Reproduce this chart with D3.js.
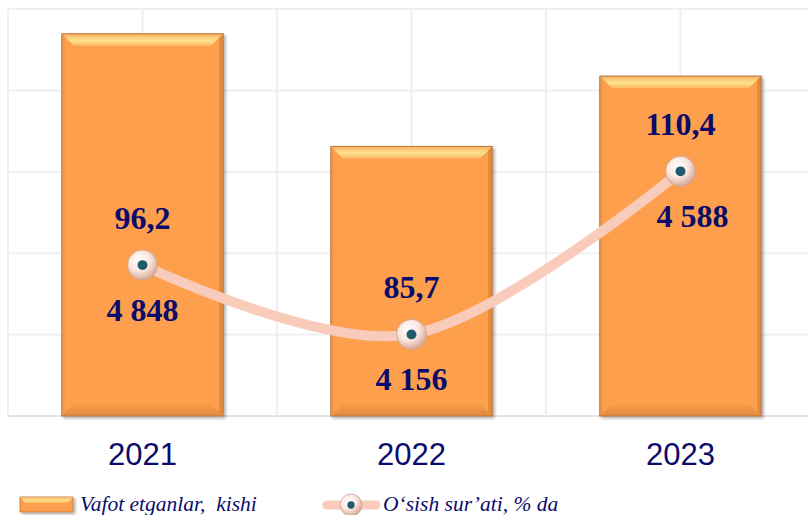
<!DOCTYPE html>
<html>
<head>
<meta charset="utf-8">
<script src="https://cdn.jsdelivr.net/npm/d3@7"></script>
<style>
  html, body { margin: 0; padding: 0; background: #fff; }
  svg { display: block; }
</style>
</head>
<body>
<svg id="chart"></svg>
<script>
var years = ["2021", "2022", "2023"];
var deaths = [4848, 4156, 4588];
var growth = [96.2, 85.7, 110.4];
var deathLabels = ["4 848", "4 156", "4 588"];
var growthLabels = ["96,2", "85,7", "110,4"];
var legendLabels = ["Vafot etganlar,  kishi", "O\u2018sish sur\u2019ati, % da"];

var width = 808, height = 515;
var svg = d3.select("#chart")
    .attr("width", width)
    .attr("height", height);

var plotTop = 9, plotBottom = 416, plotLeft = 8, plotRight = 815;

var x = d3.scaleBand()
    .domain(years)
    .range([plotLeft, plotRight])
    .paddingInner(0)
    .paddingOuter(0);

var y = d3.scaleLinear()
    .domain([2500, 5000])
    .range([plotBottom, plotTop]);

// secondary scale for the growth line (no axis drawn)
var y2 = d3.scaleLinear()
    .domain([80, 115])
    .range([372, 141]);

var defs = svg.append("defs");

var shadow = defs.append("filter").attr("id", "shadow")
    .attr("x", "-10%").attr("y", "-10%").attr("width", "130%").attr("height", "130%");
shadow.append("feDropShadow")
    .attr("dx", 2).attr("dy", 2).attr("stdDeviation", 1.5)
    .attr("flood-color", "#000").attr("flood-opacity", 0.3);

var topGrad = defs.append("linearGradient").attr("id", "topBevel")
    .attr("x1", 0).attr("y1", 0).attr("x2", 0).attr("y2", 1);
topGrad.append("stop").attr("offset", "0%").attr("stop-color", "#fcae60");
topGrad.append("stop").attr("offset", "55%").attr("stop-color", "#fde38f");
topGrad.append("stop").attr("offset", "100%").attr("stop-color", "#fdb864");

var botGrad = defs.append("linearGradient").attr("id", "botBevel")
    .attr("x1", 0).attr("y1", 0).attr("x2", 0).attr("y2", 1);
botGrad.append("stop").attr("offset", "0%").attr("stop-color", "#f89e4b");
botGrad.append("stop").attr("offset", "100%").attr("stop-color", "#e08a3e");

var markerGrad = defs.append("radialGradient").attr("id", "markerFill")
    .attr("cx", "40%").attr("cy", "35%").attr("r", "65%");
markerGrad.append("stop").attr("offset", "0%").attr("stop-color", "#ffffff");
markerGrad.append("stop").attr("offset", "55%").attr("stop-color", "#fbe6dd");
markerGrad.append("stop").attr("offset", "100%").attr("stop-color", "#d9a896");

// grid
var grid = svg.append("g");
grid.selectAll("line.h")
    .data(y.ticks(5))
    .enter().append("line")
    .attr("x1", plotLeft).attr("x2", width)
    .attr("y1", d => y(d)).attr("y2", d => y(d))
    .attr("stroke", d => d === 2500 ? "#e4e4e4" : "#f0f0f0")
    .attr("stroke-width", 2);

var vx = [];
years.forEach(function (yr) {
    vx.push(x(yr));
    vx.push(x(yr) + x.bandwidth() / 2);
});
grid.selectAll("line.v")
    .data(vx)
    .enter().append("line")
    .attr("x1", d => d).attr("x2", d => d)
    .attr("y1", plotTop).attr("y2", plotBottom)
    .attr("stroke", "#f0f0f0")
    .attr("stroke-width", 2);

// bars
var bw = x.bandwidth() * 0.6;
var bev = 12;
var bars = svg.append("g").selectAll("g")
    .data(years)
    .enter().append("g")
    .attr("filter", "url(#shadow)");

bars.each(function (yr, i) {
    var g = d3.select(this);
    var x0 = x(yr) + (x.bandwidth() - bw) / 2, x1 = x0 + bw;
    var y0 = y(deaths[i]), y1 = plotBottom;
    g.append("rect")
        .attr("x", x0).attr("y", y0)
        .attr("width", bw).attr("height", y1 - y0)
        .attr("fill", "#fd9f4d");
    g.append("polygon")
        .attr("points", [[x0, y0], [x1, y0], [x1 - bev, y0 + bev], [x0 + bev, y0 + bev]].join(" "))
        .attr("fill", "url(#topBevel)");
    g.append("polygon")
        .attr("points", [[x0, y1], [x1, y1], [x1 - bev, y1 - bev], [x0 + bev, y1 - bev]].join(" "))
        .attr("fill", "url(#botBevel)");
    g.append("polygon")
        .attr("points", [[x1, y0], [x1, y1], [x1 - 4, y1 - 4], [x1 - 4, y0 + 4]].join(" "))
        .attr("fill", "#e08a3c");
    g.append("polygon")
        .attr("points", [[x0, y0], [x0, y1], [x0 + 3, y1 - 3], [x0 + 3, y0 + 3]].join(" "))
        .attr("fill", "#f59747");
    g.append("rect")
        .attr("x", x0).attr("y", y0)
        .attr("width", bw).attr("height", y1 - y0)
        .attr("fill", "none")
        .attr("stroke", "#b9783d").attr("stroke-width", 1);
});

// growth line
var cx = d => x(d) + x.bandwidth() / 2;
var line = d3.line()
    .x((d, i) => cx(years[i]))
    .y(d => y2(d))
    .curve(d3.curveCardinal.tension(0));

svg.append("path")
    .datum(growth)
    .attr("d", line)
    .attr("fill", "none")
    .attr("stroke", "#f8cbbb")
    .attr("stroke-width", 10)
    .attr("stroke-linecap", "round");

function marker(sel, r) {
    sel.append("circle").attr("r", r)
        .attr("fill", "url(#markerFill)")
        .attr("stroke", "#c9a497").attr("stroke-width", 0.8);
    sel.append("circle").attr("r", r * 0.33)
        .attr("fill", "#1f5b6a");
}

svg.append("g").selectAll("g")
    .data(growth)
    .enter().append("g")
    .attr("transform", (d, i) => `translate(${cx(years[i])},${y2(d)})`)
    .each(function () { marker(d3.select(this), 15); });

// labels
var labelFont = "'Liberation Serif', 'Times New Roman', serif";
svg.append("g").selectAll("text")
    .data(growth)
    .enter().append("text")
    .attr("x", (d, i) => cx(years[i]))
    .attr("y", d => y2(d) - 36)
    .attr("text-anchor", "middle")
    .attr("font-family", labelFont)
    .attr("font-weight", "bold")
    .attr("font-size", 32)
    .attr("fill", "#0b0b6b")
    .text((d, i) => growthLabels[i]);

svg.append("g").selectAll("text")
    .data(growth)
    .enter().append("text")
    .attr("x", (d, i) => cx(years[i]) + (i === 2 ? 12 : 0))
    .attr("y", d => y2(d) + 56)
    .attr("text-anchor", "middle")
    .attr("font-family", labelFont)
    .attr("font-weight", "bold")
    .attr("font-size", 32)
    .attr("fill", "#0b0b6b")
    .text((d, i) => deathLabels[i]);

// x axis labels
svg.append("g").selectAll("text")
    .data(years)
    .enter().append("text")
    .attr("x", d => cx(d))
    .attr("y", 465)
    .attr("text-anchor", "middle")
    .attr("font-family", "'Liberation Sans', Arial, sans-serif")
    .attr("font-size", 31)
    .attr("fill", "#0b0b6b")
    .text(d => d);

// legend
var lg = svg.append("g");
var sw = lg.append("g").attr("filter", "url(#shadow)");
sw.append("rect").attr("x", 20).attr("y", 497).attr("width", 53).attr("height", 15)
    .attr("fill", "#fd9f4d").attr("stroke", "#b9783d").attr("stroke-width", 0.8);
sw.append("polygon")
    .attr("points", [[20, 497], [73, 497], [68, 503], [25, 503]].join(" "))
    .attr("fill", "url(#topBevel)");
lg.append("text")
    .attr("x", 80).attr("y", 511)
    .attr("font-family", labelFont)
    .attr("font-style", "italic")
    .attr("font-size", 21.5)
    .attr("fill", "#0b0b6b")
    .style("white-space", "pre")
    .text(legendLabels[0]);

lg.append("line")
    .attr("x1", 327).attr("x2", 376).attr("y1", 505).attr("y2", 505)
    .attr("stroke", "#f8cbbb").attr("stroke-width", 9)
    .attr("stroke-linecap", "round");
var lm = lg.append("g").attr("transform", "translate(351,505)");
marker(lm, 11);
lg.append("text")
    .attr("x", 383).attr("y", 511)
    .attr("font-family", labelFont)
    .attr("font-style", "italic")
    .attr("font-size", 21.5)
    .attr("fill", "#0b0b6b")
    .text(legendLabels[1]);
</script>
</body>
</html>
